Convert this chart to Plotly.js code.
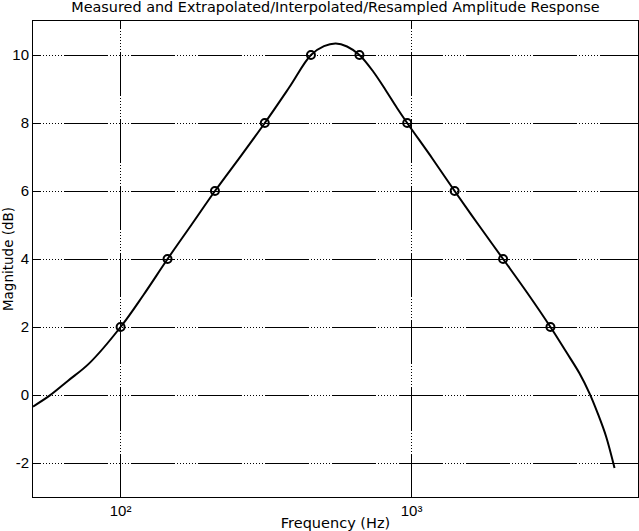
<!DOCTYPE html>
<html>
<head>
<meta charset="utf-8">
<script src="https://cdn.plot.ly/plotly-3.0.1.min.js"></script>
<style>
html,body{margin:0;padding:0;background:#fff;}
#chart{width:639px;height:531px;}
</style>
</head>
<body>
<div id="chart"></div>
<script>
// Measured points
var measuredFreq = [100, 145, 211, 313, 451, 662, 966, 1406, 2063, 3001];
var measuredMag  = [2, 4, 6, 8, 10, 10, 8, 6, 4, 2];

// Extrapolated / interpolated / resampled response
var curveFreq = [50, 57, 66, 78, 100, 120, 145, 175, 211, 260, 313, 380, 451, 500, 549, 600, 662, 740, 817, 890, 966, 1180, 1406, 1700, 2063, 2500, 3001, 3398, 3775, 4088, 4363, 4661, 4983];
var curveMag  = [-0.34, -0.02, 0.42, 0.93, 2.0, 2.95, 4.0, 5.0, 6.0, 7.05, 8.0, 9.05, 10.0, 10.26, 10.34, 10.25, 10.0, 9.5, 8.95, 8.45, 8.0, 6.95, 6.0, 5.0, 4.0, 3.0, 2.0, 1.27, 0.64, 0.05, -0.54, -1.22, -2.15];

var xTickVals = [100, 1000];
var xTickText = ['10\u00b2', '10\u00b3'];
var yTickVals = [-2, 0, 2, 4, 6, 8, 10];
var yTickText = ['-2', '0', '2', '4', '6', '8', '10'];

// Grid dash pattern: long solid segment followed by a dotted run
var parts = ['8px'];
for (var i = 0; i < 7; i++) { parts.push('2px', '1px'); }
parts.push('2px', '36px', '0px');
var gridDash = parts.join(',');

var traces = [
  {
    x: curveFreq, y: curveMag, type: 'scatter', mode: 'lines',
    line: {color: '#000', width: 2, shape: 'spline', smoothing: 1},
    hoverinfo: 'none', showlegend: false
  },
  {
    x: measuredFreq, y: measuredMag, type: 'scatter', mode: 'markers',
    marker: {symbol: 'circle-open', size: 8, color: '#000', line: {color: '#000', width: 2}},
    hoverinfo: 'none', showlegend: false
  }
];

var fontFam = 'Liberation Sans, Arial, Helvetica, sans-serif';
var wideFam = 'DejaVu Sans, Verdana, sans-serif';

var layout = {
  width: 639, height: 531,
  margin: {l: 33, r: 1, t: 21, b: 34},
  paper_bgcolor: '#fff', plot_bgcolor: '#fff',
  font: {family: fontFam, size: 14, color: '#000'},
  title: {
    text: 'Measured and Extrapolated/Interpolated/Resampled Amplitude Response',
    font: {family: wideFam, size: 14.4, color: '#000'},
    xref: 'paper', x: 0.5, xanchor: 'center', y: 0.986, yanchor: 'middle'
  },
  xaxis: {
    type: 'log',
    range: [Math.log10(50), Math.log10(6000)],
    tickvals: xTickVals, ticktext: xTickText,
    ticks: 'inside', ticklen: 5, tickcolor: '#000',
    showline: true, linecolor: '#000', linewidth: 1, mirror: 'allticks',
    showgrid: true, gridcolor: '#000', gridwidth: 1, griddash: gridDash,
    zeroline: false,
    tickfont: {family: fontFam, size: 15, color: '#000'},
    title: {text: 'Frequency (Hz)', font: {family: wideFam, size: 14.5, color: '#000'}, standoff: 0}
  },
  yaxis: {
    range: [-3, 11],
    tickvals: yTickVals, ticktext: yTickText,
    ticks: 'inside', ticklen: 5, tickcolor: '#000',
    showline: true, linecolor: '#000', linewidth: 1, mirror: 'allticks',
    showgrid: true, gridcolor: '#000', gridwidth: 1, griddash: gridDash,
    zeroline: false,
    tickfont: {family: fontFam, size: 15, color: '#000'},
    title: {text: 'Magnitude (dB)', font: {family: wideFam, size: 13.5, color: '#000'}, standoff: 3}
  }
};

Plotly.newPlot('chart', traces, layout, {staticPlot: true, displayModeBar: false});
</script>
</body>
</html>
